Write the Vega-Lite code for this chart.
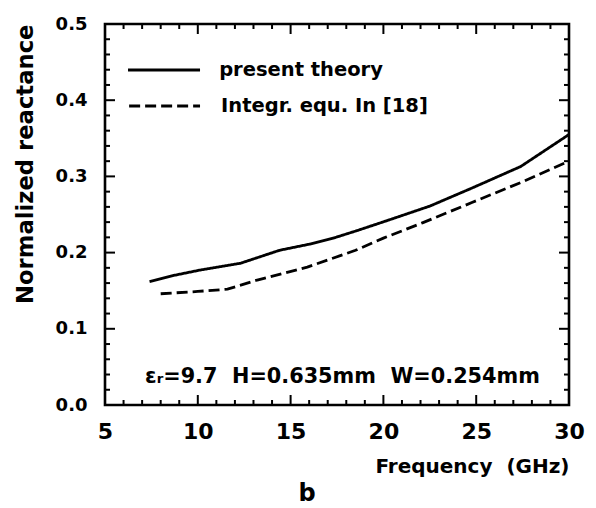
{
  "$schema": "https://vega.github.io/schema/vega-lite/v6.json",
  "width": 464,
  "height": 381,
  "autosize": "none",
  "padding": {"left": 105, "top": 24, "right": 27, "bottom": 103},
  "background": "white",
  "config": {"view": {"stroke": "black", "strokeWidth": 2.6}, "font": "DejaVu Sans"},
  "title": {"text": "b", "orient": "bottom", "anchor": "middle", "dx": -30, "offset": 6, "font": "DejaVu Sans", "fontSize": 24, "fontWeight": "bold", "color": "black"},
  "resolve": {"axis": {"x": "independent", "y": "independent"}},
  "layer": [
    {
      "data": {"values": [
        {"f": 7.4, "x": 0.162, "series": "present theory"},
        {"f": 8.7, "x": 0.170, "series": "present theory"},
        {"f": 10.1, "x": 0.177, "series": "present theory"},
        {"f": 12.3, "x": 0.186, "series": "present theory"},
        {"f": 14.4, "x": 0.203, "series": "present theory"},
        {"f": 16.0, "x": 0.211, "series": "present theory"},
        {"f": 17.3, "x": 0.219, "series": "present theory"},
        {"f": 18.6, "x": 0.229, "series": "present theory"},
        {"f": 20.2, "x": 0.242, "series": "present theory"},
        {"f": 22.5, "x": 0.261, "series": "present theory"},
        {"f": 24.8, "x": 0.285, "series": "present theory"},
        {"f": 27.4, "x": 0.313, "series": "present theory"},
        {"f": 30.0, "x": 0.355, "series": "present theory"},
        {"f": 8.0, "x": 0.146, "series": "Integr. equ. In [18]"},
        {"f": 10.0, "x": 0.149, "series": "Integr. equ. In [18]"},
        {"f": 11.6, "x": 0.152, "series": "Integr. equ. In [18]"},
        {"f": 13.2, "x": 0.164, "series": "Integr. equ. In [18]"},
        {"f": 15.9, "x": 0.181, "series": "Integr. equ. In [18]"},
        {"f": 18.5, "x": 0.203, "series": "Integr. equ. In [18]"},
        {"f": 20.0, "x": 0.219, "series": "Integr. equ. In [18]"},
        {"f": 22.1, "x": 0.239, "series": "Integr. equ. In [18]"},
        {"f": 24.8, "x": 0.266, "series": "Integr. equ. In [18]"},
        {"f": 27.5, "x": 0.293, "series": "Integr. equ. In [18]"},
        {"f": 29.8, "x": 0.318, "series": "Integr. equ. In [18]"}
      ]},
      "mark": {"type": "line", "stroke": "black", "strokeWidth": 2.8},
      "encoding": {
        "x": {"field": "f", "type": "quantitative", "scale": {"domain": [5, 30], "nice": false, "zero": false},
          "axis": {"orient": "bottom", "values": [5,10,15,20,25,30],
            "title": "Frequency\u00a0\u00a0(GHz)", "titleAnchor": "end", "titleFont": "DejaVu Sans", "titleFontSize": 20, "titleFontWeight": "bold", "titleColor": "black", "titlePadding": 14,
            "domain": false, "grid": false, "ticks": false,
            "labelFont": "DejaVu Sans", "labelFontWeight": "bold", "labelFontSize": 22, "labelColor": "black",
            "labelPadding": 16, "labelOverlap": false, "labelFlush": false}},
        "y": {"field": "x", "type": "quantitative", "scale": {"domain": [0, 0.5], "nice": false},
          "axis": {"orient": "left", "values": [0,0.1,0.2,0.3,0.4,0.5],
            "format": ".1f",
            "title": "Normalized reactance", "titleAnchor": "end", "titleFont": "DejaVu Sans", "titleFontSize": 22.7, "titleFontWeight": "bold", "titleColor": "black", "titlePadding": 18,
            "domain": false, "grid": false, "ticks": false,
            "labelFont": "DejaVu Sans", "labelFontWeight": "bold", "labelFontSize": 18, "labelColor": "black",
            "labelPadding": 18, "labelOverlap": false, "labelFlush": false}},
        "strokeDash": {"field": "series", "type": "nominal", "scale": {"domain": ["present theory", "Integr. equ. In [18]"], "range": [[1, 0], [11, 5]]}, "legend": null}
      }
    },
    {
      "data": {"values": [{"t": 5}, {"t": 10}, {"t": 15}, {"t": 20}, {"t": 25}, {"t": 30}]},
      "mark": {"type": "tick", "orient": "vertical", "color": "black", "size": 10, "thickness": 2, "yOffset": -5, "opacity": 1},
      "encoding": {
        "x": {"field": "t", "type": "quantitative", "axis": null},
        "y": {"datum": 0, "type": "quantitative", "axis": null}
      }
    },
    {
      "data": {"values": [{"t": 6}, {"t": 7}, {"t": 8}, {"t": 9}, {"t": 11}, {"t": 12}, {"t": 13}, {"t": 14}, {"t": 16}, {"t": 17}, {"t": 18}, {"t": 19}, {"t": 21}, {"t": 22}, {"t": 23}, {"t": 24}, {"t": 26}, {"t": 27}, {"t": 28}, {"t": 29}]},
      "mark": {"type": "tick", "orient": "vertical", "color": "black", "size": 5, "thickness": 2, "yOffset": -2.5, "opacity": 1},
      "encoding": {
        "x": {"field": "t", "type": "quantitative", "axis": null},
        "y": {"datum": 0, "type": "quantitative", "axis": null}
      }
    },
    {
      "data": {"values": [{"t": 5}, {"t": 10}, {"t": 15}, {"t": 20}, {"t": 25}, {"t": 30}]},
      "mark": {"type": "tick", "orient": "vertical", "color": "black", "size": 10, "thickness": 2, "yOffset": 5, "opacity": 1},
      "encoding": {
        "x": {"field": "t", "type": "quantitative", "axis": null},
        "y": {"datum": 0.5, "type": "quantitative", "axis": null}
      }
    },
    {
      "data": {"values": [{"t": 6}, {"t": 7}, {"t": 8}, {"t": 9}, {"t": 11}, {"t": 12}, {"t": 13}, {"t": 14}, {"t": 16}, {"t": 17}, {"t": 18}, {"t": 19}, {"t": 21}, {"t": 22}, {"t": 23}, {"t": 24}, {"t": 26}, {"t": 27}, {"t": 28}, {"t": 29}]},
      "mark": {"type": "tick", "orient": "vertical", "color": "black", "size": 5, "thickness": 2, "yOffset": 2.5, "opacity": 1},
      "encoding": {
        "x": {"field": "t", "type": "quantitative", "axis": null},
        "y": {"datum": 0.5, "type": "quantitative", "axis": null}
      }
    },
    {
      "data": {"values": [{"t": 0}, {"t": 0.1}, {"t": 0.2}, {"t": 0.3}, {"t": 0.4}, {"t": 0.5}]},
      "mark": {"type": "tick", "orient": "horizontal", "color": "black", "size": 10, "thickness": 2, "xOffset": 5, "opacity": 1},
      "encoding": {
        "y": {"field": "t", "type": "quantitative", "axis": null},
        "x": {"datum": 5, "type": "quantitative", "axis": null}
      }
    },
    {
      "data": {"values": [{"t": 0.02}, {"t": 0.04}, {"t": 0.06}, {"t": 0.08}, {"t": 0.12}, {"t": 0.14}, {"t": 0.16}, {"t": 0.18}, {"t": 0.22}, {"t": 0.24}, {"t": 0.26}, {"t": 0.28}, {"t": 0.32}, {"t": 0.34}, {"t": 0.36}, {"t": 0.38}, {"t": 0.42}, {"t": 0.44}, {"t": 0.46}, {"t": 0.48}]},
      "mark": {"type": "tick", "orient": "horizontal", "color": "black", "size": 5, "thickness": 2, "xOffset": 2.5, "opacity": 1},
      "encoding": {
        "y": {"field": "t", "type": "quantitative", "axis": null},
        "x": {"datum": 5, "type": "quantitative", "axis": null}
      }
    },
    {
      "data": {"values": [{"t": 0}, {"t": 0.1}, {"t": 0.2}, {"t": 0.3}, {"t": 0.4}, {"t": 0.5}]},
      "mark": {"type": "tick", "orient": "horizontal", "color": "black", "size": 10, "thickness": 2, "xOffset": -5, "opacity": 1},
      "encoding": {
        "y": {"field": "t", "type": "quantitative", "axis": null},
        "x": {"datum": 30, "type": "quantitative", "axis": null}
      }
    },
    {
      "data": {"values": [{"t": 0.02}, {"t": 0.04}, {"t": 0.06}, {"t": 0.08}, {"t": 0.12}, {"t": 0.14}, {"t": 0.16}, {"t": 0.18}, {"t": 0.22}, {"t": 0.24}, {"t": 0.26}, {"t": 0.28}, {"t": 0.32}, {"t": 0.34}, {"t": 0.36}, {"t": 0.38}, {"t": 0.42}, {"t": 0.44}, {"t": 0.46}, {"t": 0.48}]},
      "mark": {"type": "tick", "orient": "horizontal", "color": "black", "size": 5, "thickness": 2, "xOffset": -2.5, "opacity": 1},
      "encoding": {
        "y": {"field": "t", "type": "quantitative", "axis": null},
        "x": {"datum": 30, "type": "quantitative", "axis": null}
      }
    },
    {
      "data": {"values": [{}]},
      "mark": {"type": "rule", "stroke": "black", "strokeWidth": 2.8},
      "encoding": {
        "x": {"datum": 6.24, "type": "quantitative", "axis": null},
        "x2": {"datum": 10.12},
        "y": {"datum": 0.4396, "type": "quantitative", "axis": null}
      }
    },
    {
      "data": {"values": [{}]},
      "mark": {"type": "rule", "stroke": "black", "strokeWidth": 2.8, "strokeDash": [11, 5]},
      "encoding": {
        "x": {"datum": 6.3, "type": "quantitative", "axis": null},
        "x2": {"datum": 10.12},
        "y": {"datum": 0.3924, "type": "quantitative", "axis": null}
      }
    },
    {
      "data": {"values": [{}]},
      "mark": {"type": "text", "text": "present theory", "align": "left", "baseline": "middle", "font": "DejaVu Sans", "fontWeight": "bold", "fontSize": 19.5, "color": "black"},
      "encoding": {
        "x": {"datum": 11.15, "type": "quantitative", "axis": null},
        "y": {"datum": 0.4396, "type": "quantitative", "axis": null}
      }
    },
    {
      "data": {"values": [{}]},
      "mark": {"type": "text", "text": "Integr. equ. In [18]", "align": "left", "baseline": "middle", "font": "DejaVu Sans", "fontWeight": "bold", "fontSize": 19.5, "color": "black"},
      "encoding": {
        "x": {"datum": 11.25, "type": "quantitative", "axis": null},
        "y": {"datum": 0.3924, "type": "quantitative", "axis": null}
      }
    },
    {
      "data": {"values": [{}]},
      "mark": {"type": "text", "text": "\u03b5\u1d63=9.7\u00a0\u00a0H=0.635mm\u00a0\u00a0W=0.254mm", "align": "left", "baseline": "middle", "font": "DejaVu Sans", "fontWeight": "bold", "fontSize": 20.8, "color": "black"},
      "encoding": {
        "x": {"datum": 7.16, "type": "quantitative", "axis": null},
        "y": {"datum": 0.0367, "type": "quantitative", "axis": null}
      }
    }
  ]
}
